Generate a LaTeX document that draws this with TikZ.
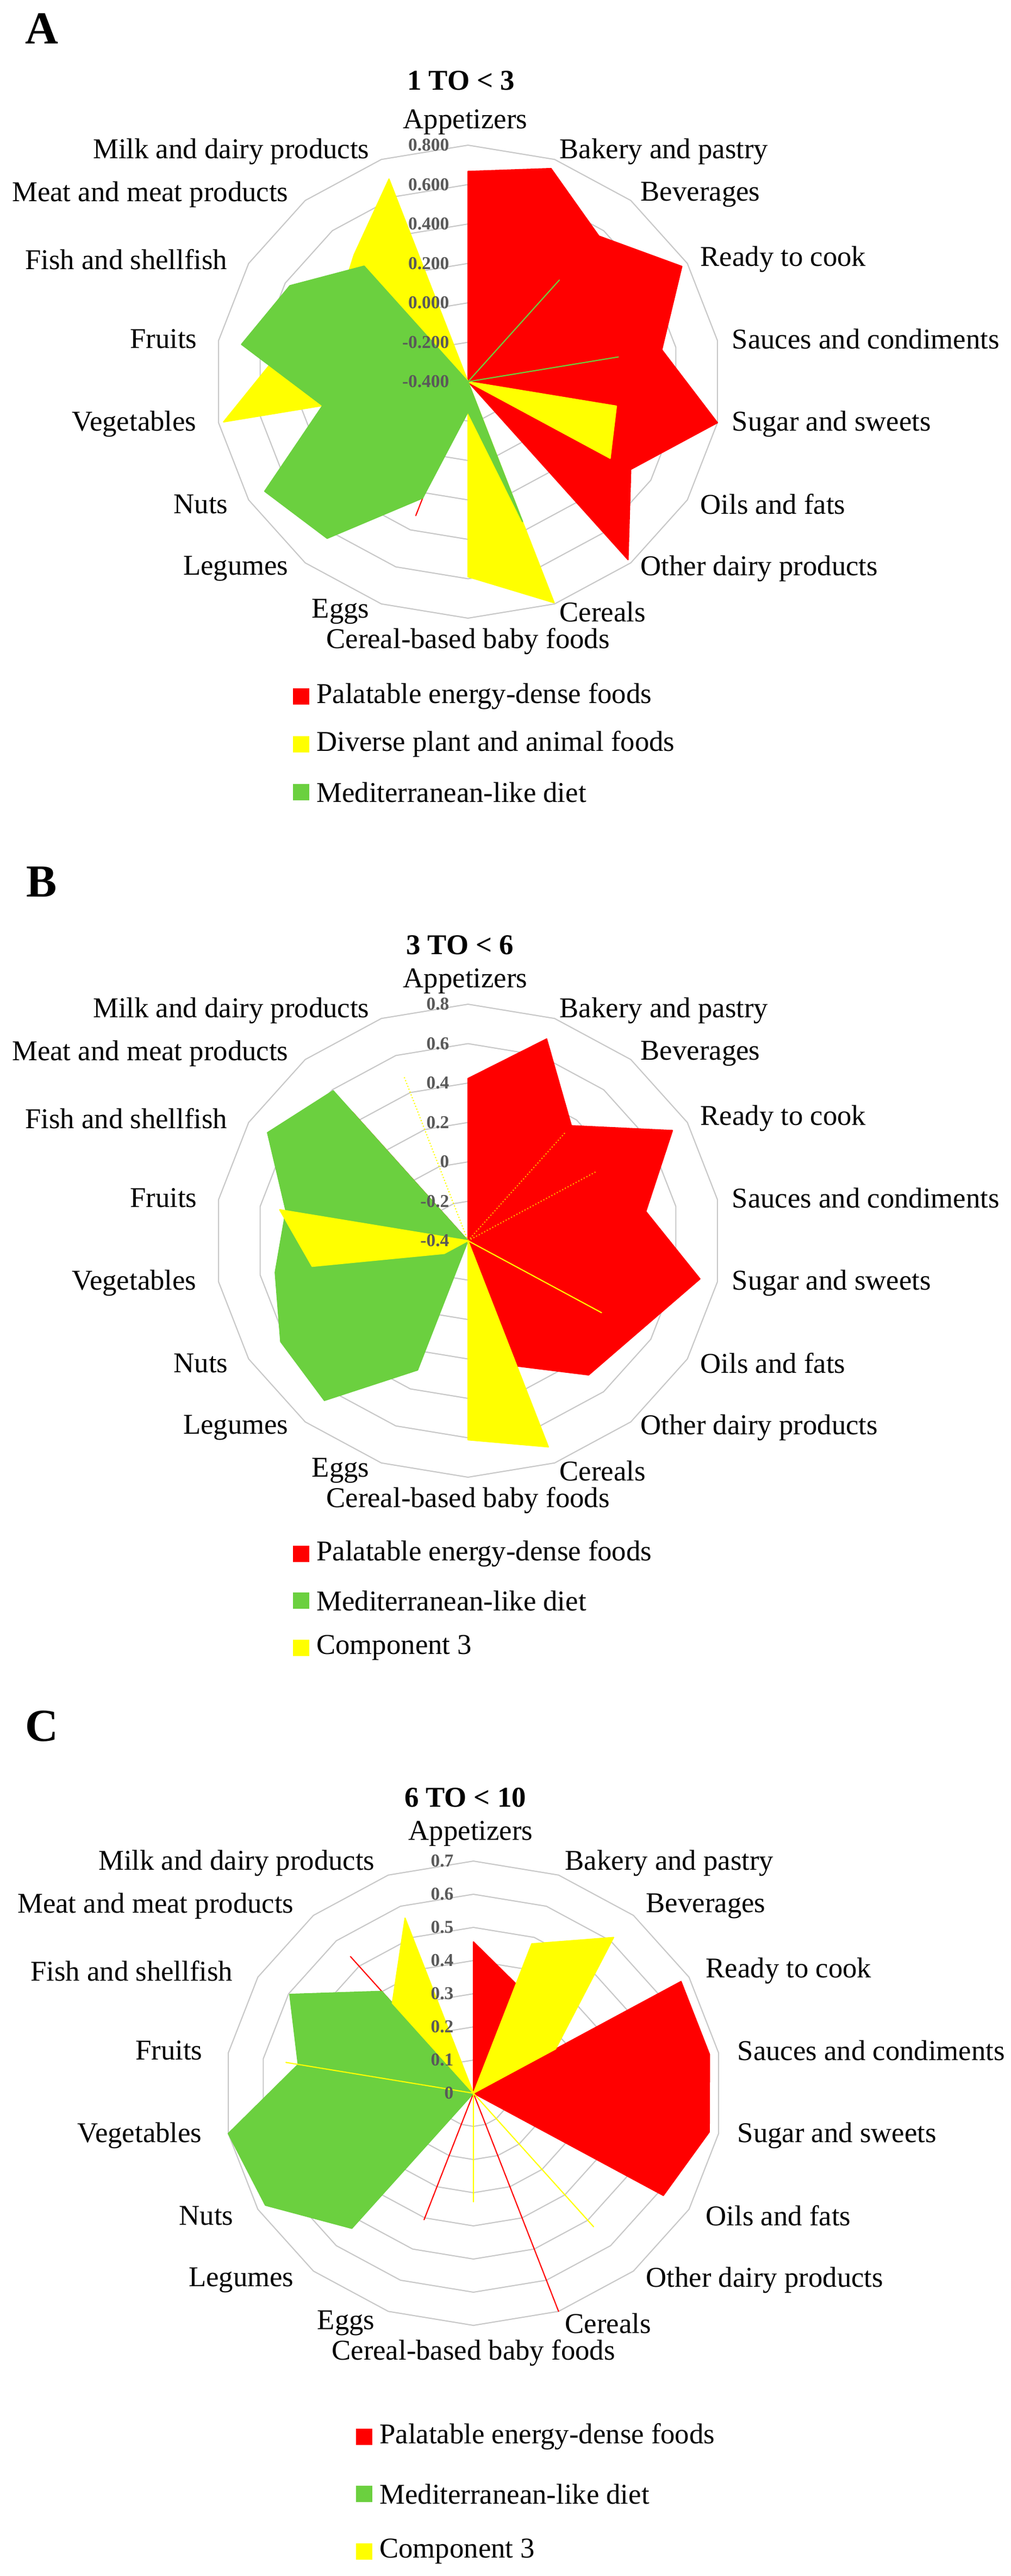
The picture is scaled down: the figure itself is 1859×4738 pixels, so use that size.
\documentclass[tikz,border=0pt]{standalone}
\usepackage{fontspec}
\setmainfont{Liberation Serif}
\definecolor{pred}{RGB}{255,0,0}
\definecolor{pyel}{RGB}{255,255,0}
\definecolor{pgrn}{RGB}{107,208,63}
\definecolor{gridc}{RGB}{200,200,200}
\definecolor{tickc}{RGB}{89,89,89}
\tikzset{
  lab/.style={font=\fontsize{15}{18}\selectfont, inner sep=0pt},
  ttl/.style={font=\fontsize{15}{18}\selectfont\bfseries, inner sep=0pt},
  tick/.style={font=\fontsize{9.5}{11}\selectfont\bfseries, text=tickc, inner sep=0pt, anchor=east},
  letter/.style={font=\fontsize{24}{28}\selectfont\bfseries, inner sep=0pt},
  ringline/.style={draw=gridc, line width=0.6pt},
  ser/.style={fill=#1, draw=#1, line width=0.6pt, line join=round},
  spike/.style={draw=#1, line width=0.6pt},
  legsq/.style={fill=#1, minimum size=3mm, inner sep=0pt},
}
\newcommand\rings[1]{\foreach \r in {1,...,#1}{\draw[ringline] ({90}:{\r/#1}) \foreach \a in {70,50,...,-250}{ -- ({\a}:{\r/#1})} -- cycle;}}
% 18 values: App Bak Bev Ready Sauces Sugar Oils OD Cer CB Eggs Leg Nuts Veg Fruits Fish Meat Milk
\newcommand\series[2]{\path[ser=#1] \foreach \v [count=\k from 0] in {#2}{ \ifnum\k=0 ({90}:{\v}) \else -- ({90-20*\k}:{\v}) \fi } -- cycle;}
\newcommand\catlabels[1]{%
  \node[lab] (#1app) at (-5,-477) {Appetizers};
  \node[lab,anchor=east] (#1milk) at (-181,-423) {Milk and dairy products};
  \node[lab,anchor=west] (#1bak) at (168,-423) {Bakery and pastry};
  \node[lab,anchor=east] (#1meat) at (-330,-344) {Meat and meat products};
  \node[lab,anchor=west] (#1bev) at (317,-344) {Beverages};
  \node[lab,anchor=east] (#1fish) at (-442,-225) {Fish and shellfish};
  \node[lab,anchor=west] (#1ready) at (427,-225) {Ready to cook};
  \node[lab,anchor=east] (#1fruit) at (-498,-79) {Fruits};
  \node[lab,anchor=west] (#1sauce) at (485,-79) {Sauces and condiments};
  \node[lab,anchor=east] (#1veg) at (-499,78) {Vegetables};
  \node[lab,anchor=west] (#1sugar) at (485,78) {Sugar and sweets};
  \node[lab,anchor=east] (#1nuts) at (-441,225) {Nuts};
  \node[lab,anchor=west] (#1oils) at (427,225) {Oils and fats};
  \node[lab,anchor=east] (#1leg) at (-330,344) {Legumes};
  \node[lab,anchor=west] (#1od) at (317,344) {Other dairy products};
  \node[lab,anchor=east] (#1eggs) at (-181,423) {Eggs};
  \node[lab,anchor=west] (#1cer) at (168,423) {Cereals};
  \node[lab] (#1cb) at (0,478) {Cereal-based baby foods};
}
\newcommand\legent[5]{%
  \node[legsq=#4] (#1sq) at (#2,#3) {};
  \node[lab,anchor=west] (#1tx) at ([xshift=1.2mm]#1sq.east) {#5};
}
\begin{document}
\begin{tikzpicture}[x=0.1mm,y=-0.1mm]
\useasboundingbox (0,0) rectangle (1859,4738);
% ---------------- A ----------------
\node[letter] (letA) at (77,53) {A};
\begin{scope}[shift={(861,702)}]
  \node[ttl] (titA) at (-13,-554) {1 TO < 3};
  \begin{scope}[xscale=466,yscale=-435]
    \rings{6}
    \series{pred}{.889,.959,.804,.975,.777,1.0,.742,.983,0,0,.603,0,0,0,0,0,0,0}
    \series{pyel}{0,0,0,0,0,.595,.648,0,.995,.825,0,0,0,.98,.75,.6,.70,.912}
    \series{pgrn}{0,0,.561,0,.603,0,0,0,.63,.128,.524,.865,.927,.583,.908,.812,.638,0}
  \end{scope}
  \foreach \i/\t in {0/-0.400,1/-0.200,2/0.000,3/0.200,4/0.400,5/0.600,6/0.800}
    \node[tick] (tA\i) at (-34,{-435*\i/6}) {\t};
  \catlabels{A}
\end{scope}
\legent{lA1}{554}{1281}{pred}{Palatable energy-dense foods}
\legent{lA2}{554}{1369}{pyel}{Diverse plant and animal foods}
\legent{lA3}{554}{1457}{pgrn}{Mediterranean-like diet}
% ---------------- B ----------------
\node[letter] (letB) at (77,1622) {B};
\begin{scope}[shift={(861,2282)}]
  \node[ttl] (titB) at (-15,-544) {3 TO < 6};
  \begin{scope}[xscale=466,yscale=-435]
    \rings{6}
    \series{pred}{.686,.908,.635,.932,.713,.930,.775,.741,.564,0,0,0,0,0,0,0,.711,0}
    \series{pgrn}{0,0,0,0,0,0,0,0,0,0,.582,.882,.854,.773,.73,.914,.828,0}
    \series{pyel}{0,0,0,0,0,0,.609,0,.928,.842,0,0,.108,.625,.755,0,0,0}
    \coordinate (bc) at (0,0);
    \coordinate (bmilk) at (110:.744);
    \coordinate (bbev) at (50:.597);
    \coordinate (bready) at (30:.585);
    \draw[spike=pyel, densely dotted] (bc) -- (bmilk);
    \draw[spike=orange!60!yellow, densely dotted] (bc) -- (bbev);
    \draw[spike=orange!60!yellow, densely dotted] (bc) -- (bready);
  \end{scope}
  \foreach \i/\t in {0/-0.4,1/-0.2,2/0,3/0.2,4/0.4,5/0.6,6/0.8}
    \node[tick] (tB\i) at (-34,{-435*\i/6}) {\t};
  \catlabels{B}
\end{scope}
\legent{lB1}{554}{2858}{pred}{Palatable energy-dense foods}
\legent{lB2}{554}{2944}{pgrn}{Mediterranean-like diet}
\legent{lB3}{554}{3031}{pyel}{Component 3}
% ---------------- C ----------------
\node[letter] (letC) at (77,3175) {C};
\begin{scope}[shift={(871,3850)}]
  \node[ttl] (titC) at (-15,-544) {6 TO < 10};
  \begin{scope}[xscale=458,yscale=-427]
    \rings{7}
    \series{pred}{.652,.501,0,.963,.963,.962,.881,0,1.0,0,.58,0,0,0,0,0,.769,0}
    \series{pgrn}{0,0,0,0,0,0,0,0,0,0,0,.76,.965,1.0,.715,.852,.573,0}
    \series{pyel}{0,.685,.876,.381,0,0,0,.751,0,.468,0,0,0,0,.765,0,.507,.803}
  \end{scope}
  \foreach \i/\t in {0/0,1/0.1,2/0.2,3/0.3,4/0.4,5/0.5,6/0.6,7/0.7}
    \node[tick] (tC\i) at (-36,{-427*\i/7}) {\t};
  \catlabels{C}
\end{scope}
\legent{lC1}{670}{4482}{pred}{Palatable energy-dense foods}
\legent{lC2}{670}{4587}{pgrn}{Mediterranean-like diet}
\legent{lC3}{670}{4693}{pyel}{Component 3}
\end{tikzpicture}
\end{document}
